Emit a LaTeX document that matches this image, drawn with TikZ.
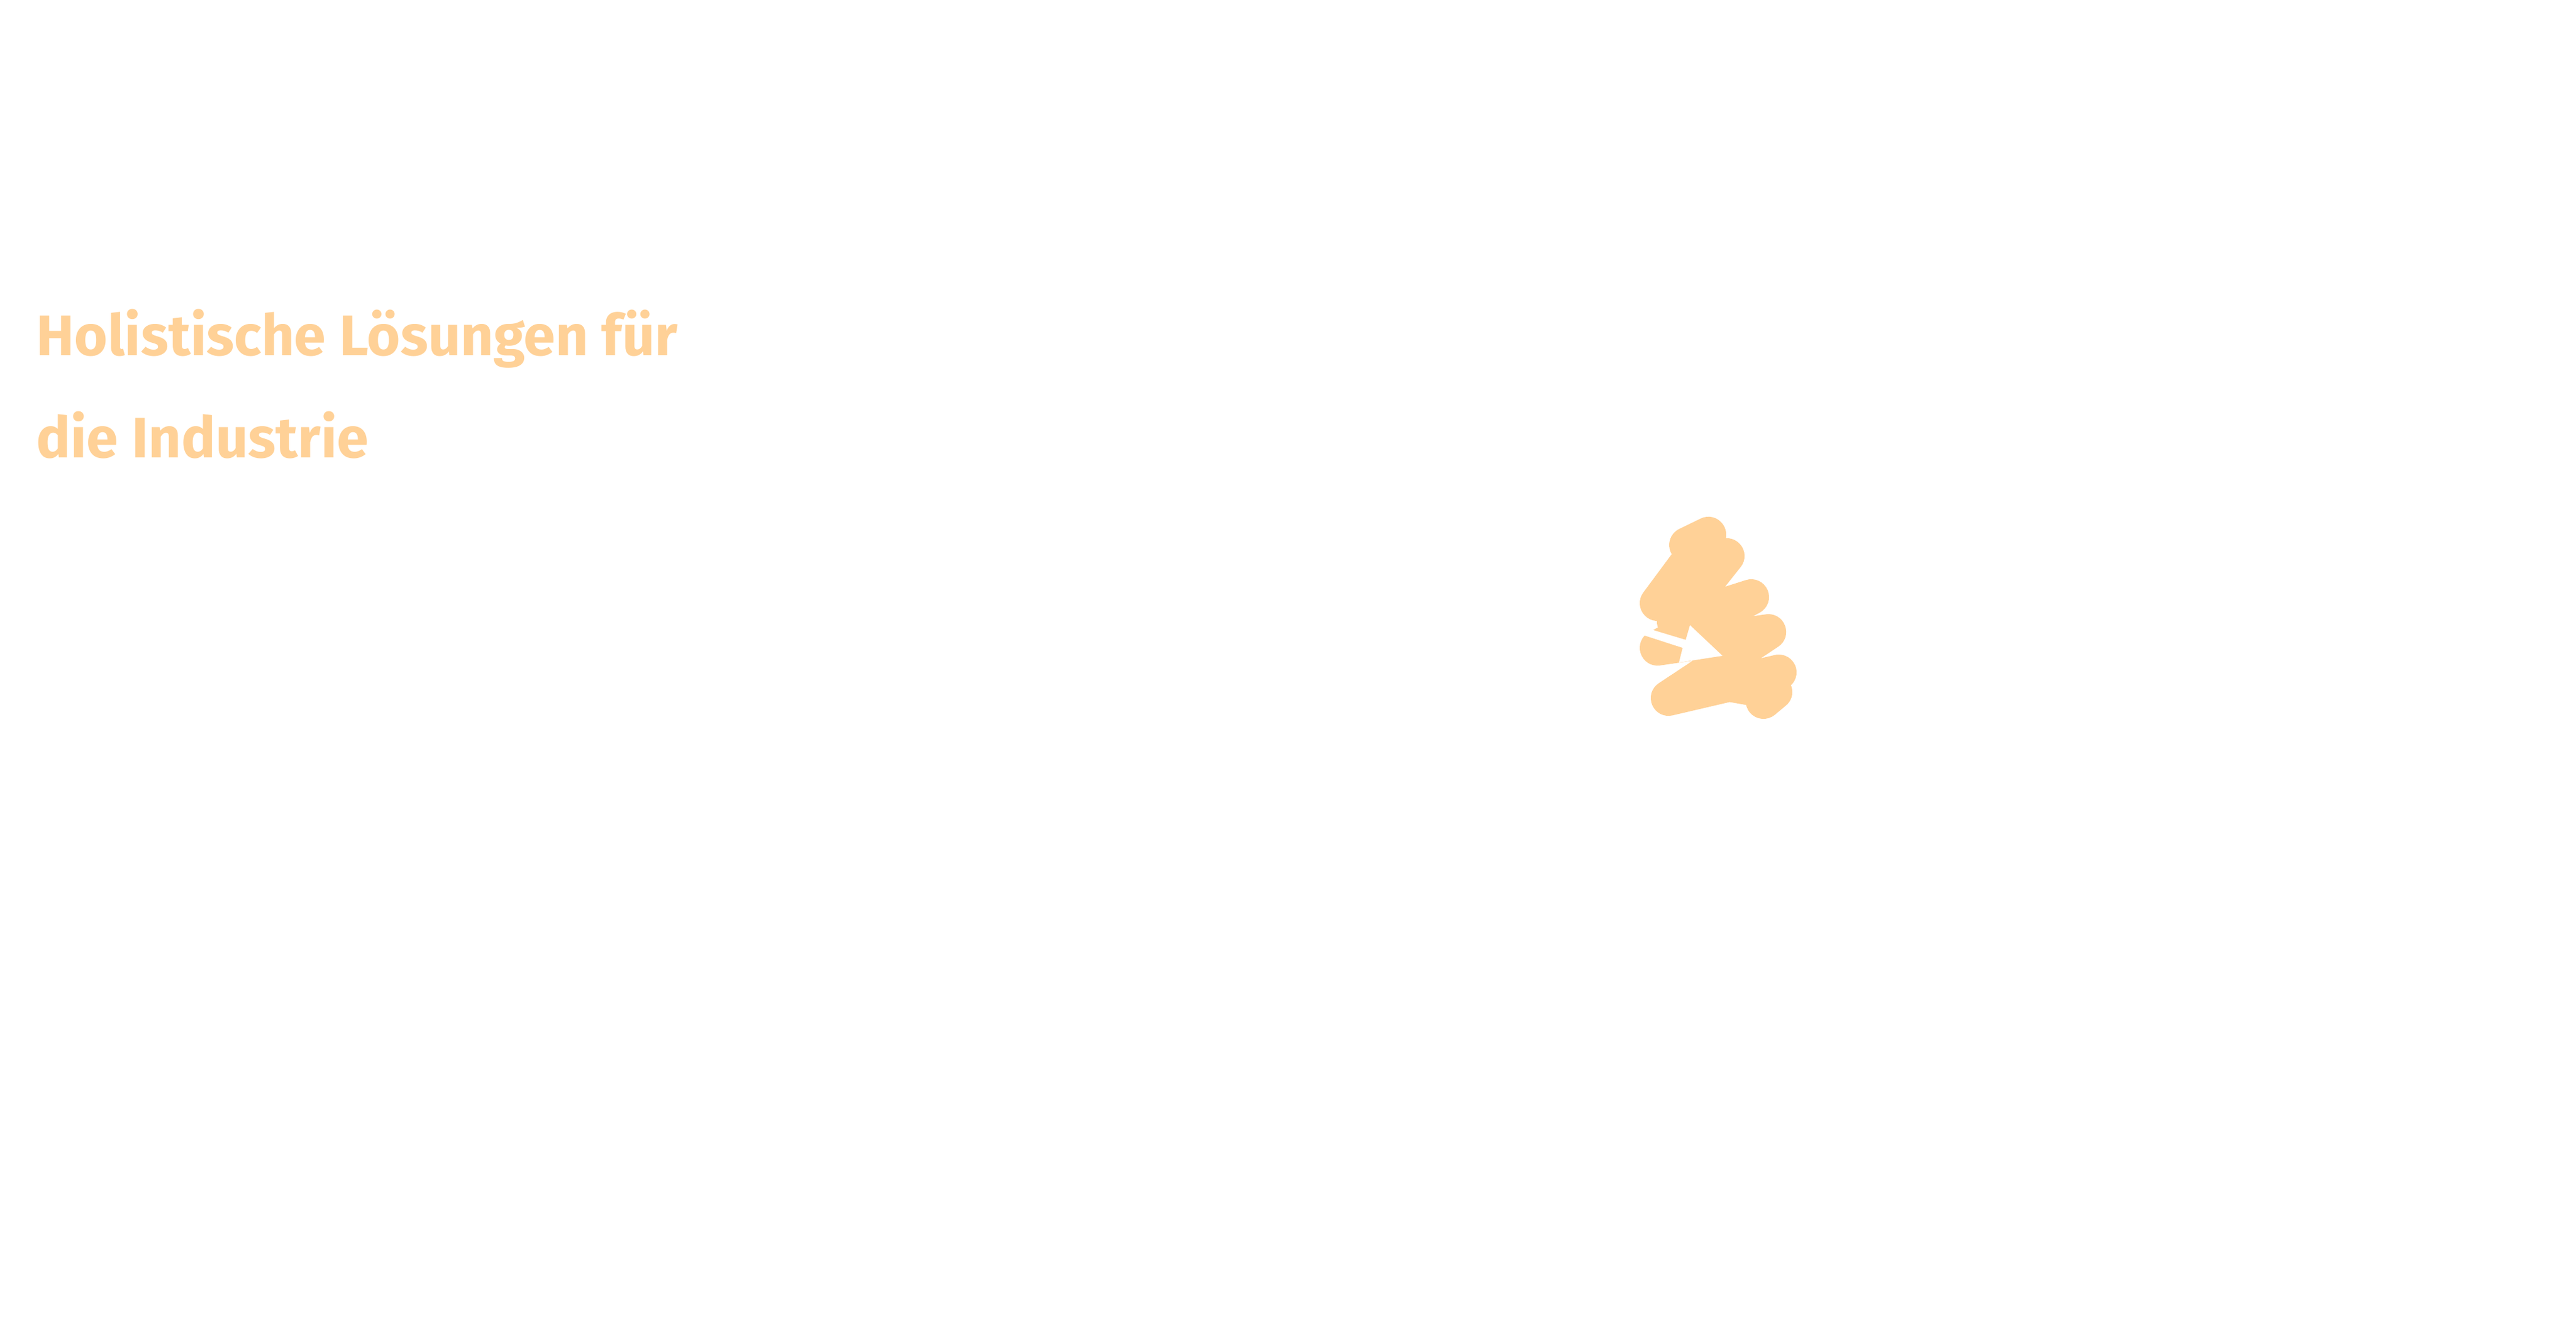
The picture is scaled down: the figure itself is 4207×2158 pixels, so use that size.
\documentclass[tikz,border=0pt]{standalone}
\usepackage{fontspec}
\setmainfont{Fira Sans}
\definecolor{peach}{HTML}{FFD197}
\tikzstyle{headline}=[anchor=base west, inner sep=0, peach, font=\fontsize{26.5}{30}\selectfont\bfseries]
\tikzstyle{scribble}=[peach, line width=0.58cm, line cap=round, line join=round]
\begin{document}
\begin{tikzpicture}[x=0.01cm, y=-0.01cm]
  \useasboundingbox[fill=white] (0,0) rectangle (4207,2158);
  % TITLE
  \node[headline] (line1) at (59,580) {Holistische Lösungen für};
  \node[headline] (line2) at (59,747) {die Industrie};
  % SCRIBBLE
  \draw[scribble] (2755,890) -- (2790,873) -- (2707,985) -- (2820,908) -- (2735,1015)
    -- (2860,975) -- (2707,1058) -- (2888,1032) -- (2725,1140) -- (2905,1098)
    -- (2830,1118) -- (2898,1130) -- (2880,1145);
  \fill[white] (2680,1036) -- (2748,1058) -- (2742,1082) -- (2813,1071)
    -- (2760,1021) -- (2753,1045) -- (2690,1026) -- cycle;
\end{tikzpicture}
\end{document}
